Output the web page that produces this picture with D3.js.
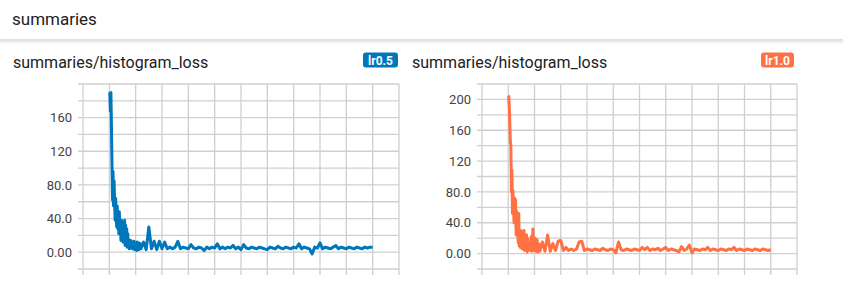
<!doctype html>
<html>
<head>
<title>summaries</title>
<style>
  html, body { margin: 0; padding: 0; background: #fff; }
  svg { display: block; font-family: Roboto, "Noto Sans", sans-serif; }
</style>
<script src="https://cdnjs.cloudflare.com/ajax/libs/d3/7.8.5/d3.min.js"></script>
</head>
<body>
<script>
// shared steps: dense at the start, every 10 after step 120
var steps = [0,2,4,6,8,10,12,14,16,18,20,22,24,26,28,30,32,34,36,38,40,42,44,46,48,50,
  52,54,56,58,60,62,64,66,68,70,72,74,76,78,80,82,84,86,88,90,92,94,96,98,100,
  102,104,106,108,110,112,114,116,118,120,
  130,140,150,160,170,180,190,200,210,220,230,240,250,260,270,280,290,300,310,320,
  330,340,350,360,370,380,390,400,410,420,430,440,450,460,470,480,490,500,510,520,
  530,540,550,560,570,580,590,600,610,620,630,640,650,660,670,680,690,700,710,720,
  730,740,750,760,770,780,790,800,810,820,830,840,850,860,870,880,890,900,910,920,
  930,940,950,960,970,980,990,1000];

var lossLr05 = [190,188,168,190,150,105,62,96,55,85,60,38,64,45,30,55,28,42,22,48,25,
  35,14,38,18,28,12,30,20,38,8,32,10,28,6,22,8,15,4,12,5,14,6,12,4,9,5,13,3,9,6,
  10,2,12,5,9,3,11,6,10,4,
  12,3,30,4,13,3,13,4,12,4,6,4,6,13,4,6,5,4,9,5,
  4,6,5,2,6,4,6,5,10,4,6,4,6,5,8,4,6,3,9,5,
  4,6,5,4,6,5,4,3,6,5,4,7,5,4,6,5,4,6,5,10,
  4,6,5,4,-2,6,5,11,4,6,5,4,6,8,4,6,5,4,6,5,
  4,6,5,4,6,5,6,6];

var lossLr10 = [205,204,190,168,145,140,80,108,52,82,60,40,72,48,70,24,55,28,42,14,52,
  10,30,8,30,18,28,6,20,8,30,4,18,5,14,24,2,20,8,12,5,14,4,10,22,3,12,32,4,14,6,
  20,3,12,6,18,2,10,5,12,3,
  15,3,24,3,13,4,16,17,4,8,4,6,4,6,15,16,4,6,5,4,
  6,5,4,7,5,4,6,5,1,15,5,4,6,5,4,6,5,4,8,5,
  8,4,6,5,7,4,6,8,4,6,5,4,2,9,4,6,11,1,6,5,
  4,6,5,8,4,6,5,4,6,5,4,6,5,8,4,6,5,4,6,5,
  4,6,5,4,6,5,4,5];

var runs = ["lr0.5", "lr1.0"];
var runColors = ["#0077bb", "#ff7043"];
var yDomains = [[-20, 200], [-20, 220]];
var xDomain = [-100, 1100];
var chartTitle = "summaries/histogram_loss";
var groupTitle = "summaries";

var W = 843, H = 297;
var svg = d3.select("body").append("svg").attr("width", W).attr("height", H);

// header
svg.append("text").attr("x", 12).attr("y", 25)
  .attr("font-size", 17).attr("fill", "#212121").text(groupTitle);

var defs = svg.append("defs");
var grad = defs.append("linearGradient").attr("id", "shade")
  .attr("x1", 0).attr("y1", 0).attr("x2", 0).attr("y2", 1);
grad.append("stop").attr("offset", "0%").attr("stop-color", "#000").attr("stop-opacity", 0.12);
grad.append("stop").attr("offset", "100%").attr("stop-color", "#000").attr("stop-opacity", 0);
svg.append("rect").attr("x", 0).attr("y", 39).attr("width", W).attr("height", 1).attr("fill", "#e0e0e0");
svg.append("rect").attr("x", 0).attr("y", 40).attr("width", W).attr("height", 4).attr("fill", "url(#shade)");

var panels = [
  { ox: 0, left: 83, right: 399, badgeX: 363, badgeW: 35 },
  { ox: 399, left: 482, right: 797, badgeX: 761, badgeW: 33 }
];
var plotTop = 84, plotBottom = 269;

panels.forEach(function (p, i) {
  var vals = i === 0 ? lossLr05 : lossLr10;
  var data = steps.map(function (s, k) { return { step: s, value: vals[k] }; });
  var x = d3.scaleLinear().domain(xDomain).range([p.left, p.right]);
  var y = d3.scaleLinear().domain(yDomains[i]).range([plotBottom, plotTop]);
  var g = svg.append("g");

  // title and badge
  g.append("text").attr("x", p.ox + 13).attr("y", 68)
    .attr("font-size", 16).attr("fill", "#212121").text(chartTitle);
  g.append("rect").attr("x", p.badgeX).attr("y", 52.5).attr("width", p.badgeW).attr("height", 15)
    .attr("rx", 3).attr("fill", runColors[i]);
  g.append("text").attr("x", p.badgeX + p.badgeW / 2).attr("y", 64.5).attr("text-anchor", "middle")
    .attr("font-size", 12).attr("font-weight", "bold").attr("fill", "#fff").text(runs[i]);

  // grid
  var yGrid = d3.range(yDomains[i][0], yDomains[i][1] + 1, 20);
  var xGrid = d3.range(xDomain[0], xDomain[1] + 1, 100);
  g.selectAll(".hg").data(yGrid).enter().append("line")
    .attr("x1", p.left - 5).attr("x2", p.right)
    .attr("y1", function (d) { return y(d); }).attr("y2", function (d) { return y(d); })
    .attr("stroke", "#cfcfcf").attr("stroke-width", 1.3);
  g.selectAll(".vg").data(xGrid).enter().append("line")
    .attr("y1", plotTop).attr("y2", plotBottom + 6)
    .attr("x1", function (d) { return x(d); }).attr("x2", function (d) { return x(d); })
    .attr("stroke", "#cfcfcf").attr("stroke-width", 1.3);

  // y labels (top border gets no label)
  var yAxis = d3.axisLeft(y)
    .tickValues(yGrid.filter(function (d) { return d >= 0 && d % 40 === 0 && d < yDomains[i][1]; }))
    .tickFormat(d3.format(".3r")).tickSize(0).tickPadding(11);
  var ay = g.append("g").attr("transform", "translate(" + p.left + ",0)").call(yAxis);
  ay.select(".domain").remove();
  ay.selectAll("text").attr("font-size", 13).attr("fill", "#444")
    .attr("font-family", "Roboto, 'Noto Sans', sans-serif");

  // line
  defs.append("clipPath").attr("id", "clip" + i).append("rect")
    .attr("x", p.left).attr("y", plotTop).attr("width", p.right - p.left).attr("height", plotBottom - plotTop);
  var line = d3.line().x(function (d) { return x(d.step); }).y(function (d) { return y(d.value); });
  g.append("path").datum(data).attr("d", line)
    .attr("clip-path", "url(#clip" + i + ")")
    .attr("fill", "none").attr("stroke", runColors[i]).attr("stroke-width", 3)
    .attr("stroke-linejoin", "round");
});
</script>
</body>
</html>
